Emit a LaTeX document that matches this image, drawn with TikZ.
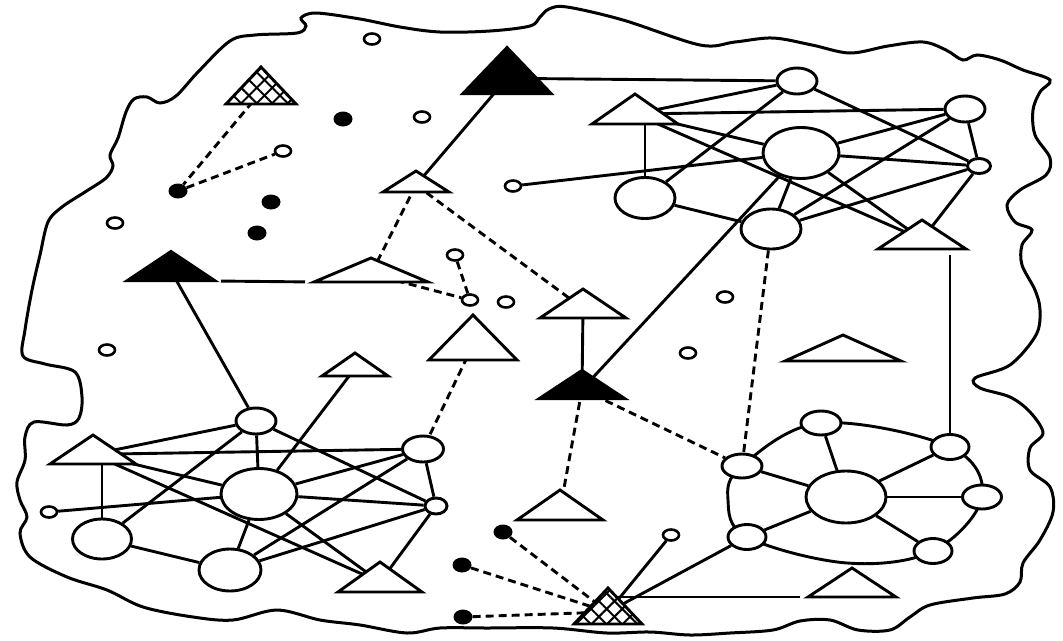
\documentclass[tikz,border=0pt]{standalone}
\usetikzlibrary{shapes.geometric,backgrounds,patterns.meta}
\pgfdeclarelayer{edges}
\pgfsetlayers{background,edges,main}
\tikzset{
  circ/.style={ellipse, draw, fill=white, line width=2.9pt, inner sep=0pt},
  sm/.style={ellipse, draw, fill=white, line width=2.6pt, inner sep=0pt, minimum width=16pt, minimum height=11pt},
  dot/.style={ellipse, fill=black, inner sep=0pt, minimum width=19pt, minimum height=15pt},
  opentri/.style={draw, fill=white, line width=2.9pt, line join=miter},
  blacktri/.style={draw, fill=black, line width=2.2pt, line join=miter},
  link/.style={line width=2.9pt},
  dlink/.style={line width=2.9pt, dash pattern=on 8pt off 5pt},
  border/.style={line width=3pt}
}
\newcommand\mytri[6][opentri]{%
  \coordinate (#2) at (#3,{#4+2*#6/3});
  \coordinate (#2a) at (#3,#4);
  \coordinate (#2l) at ({#3-#5},{#4+#6});
  \coordinate (#2r) at ({#3+#5},{#4+#6});
  \path[#1] (#2a) -- (#2l) -- (#2r) -- cycle;
}
\newcommand\myhatri[5]{%
  \mytri[fill=white]{#1}{#2}{#3}{#4}{#5}
  \path[pattern={Lines[angle=45,distance=11pt,line width=2pt]}] (#1a) -- (#1l) -- (#1r) -- cycle;
  \path[pattern={Lines[angle=-45,distance=11pt,line width=2pt]}] (#1a) -- (#1l) -- (#1r) -- cycle;
  \draw[line width=2.9pt, line join=miter] (#1a) -- (#1l) -- (#1r) -- cycle;
}
\begin{document}
\begin{tikzpicture}[x=1pt,y=-1pt]
\useasboundingbox (0,0) rectangle (1063,640);
\begin{pgfonlayer}{background}
\fill[white] (0,0) rectangle (1063,640);
\end{pgfonlayer}

% ---- top-right cluster circles
\node[circ, minimum width=40pt, minimum height=26pt] (C1) at (797,81) {};
\node[circ, minimum width=40pt, minimum height=26pt] (C2) at (965,109) {};
\node[circ, minimum width=76pt, minimum height=51pt] (C3) at (801,153) {};
\node[circ, minimum width=23pt, minimum height=15pt] (C4) at (979,166) {};
\node[circ, minimum width=60pt, minimum height=41pt] (C5) at (645,198) {};
\node[circ, minimum width=60pt, minimum height=40pt] (C6) at (771,229) {};
% ---- bottom-left cluster circles
\node[circ, minimum width=40pt, minimum height=26pt] (L1) at (256,421) {};
\node[circ, minimum width=76pt, minimum height=51pt] (L2) at (259,494) {};
\node[circ, minimum width=59pt, minimum height=40pt] (L3) at (102,539) {};
\node[circ, minimum width=62pt, minimum height=42pt] (L4) at (230,570) {};
\node[circ, minimum width=41pt, minimum height=26pt] (L5) at (423,449) {};
\node[circ, minimum width=22pt, minimum height=16pt] (L6) at (436,506) {};
% ---- ring cluster circles
\node[circ, minimum width=80pt, minimum height=52pt] (R0) at (846,497) {};
\node[circ, minimum width=40pt, minimum height=24pt] (Rt) at (821,423) {};
\node[circ, minimum width=38pt, minimum height=25pt] (Rtr) at (950,447) {};
\node[circ, minimum width=39pt, minimum height=24pt] (Rr) at (982,497) {};
\node[circ, minimum width=38pt, minimum height=25pt] (Rbr) at (933,551) {};
\node[circ, minimum width=38pt, minimum height=25pt] (Rbl) at (747,537) {};
\node[circ, minimum width=40pt, minimum height=24pt] (Rl) at (742,466) {};
% ---- small open circles
\node[sm] (o1) at (372,39) {};
\node[sm] (o2) at (422,117) {};
\node[sm] (o3) at (513,186) {};
\node[sm] (o4) at (283,151) {};
\node[sm] (o5) at (115,223) {};
\node[sm] (o6) at (107,350) {};
\node[sm] (o7) at (455,255) {};
\node[sm] (o8) at (470,300) {};
\node[sm] (o9) at (506,302) {};
\node[sm] (o10) at (725,297) {};
\node[sm] (o11) at (688,353) {};
\node[sm] (o12) at (671,535) {};
\node[sm] (o13) at (49,512) {};
% ---- black dots
\node[dot] (d1) at (343,119) {};
\node[dot] (d2) at (178,191) {};
\node[dot] (d3) at (271,202) {};
\node[dot] (d4) at (257,233) {};
\node[dot] (d5) at (503,532) {};
\node[dot] (d6) at (462,565) {};
\node[dot] (d7) at (463,617) {};
% ---- triangles: name, apex x, apex y, half width, height
\myhatri{Ht}{261}{67}{35}{37}
\mytri[blacktri]{Bt}{507}{47}{45}{47}
\mytri{T0}{416}{171}{33}{21}
\mytri[blacktri]{Bl}{171}{251}{45}{30}
\mytri{Tm}{371}{258}{57}{24}
\mytri{Tc}{583}{289}{43}{29}
\mytri{Tmid}{473}{315}{44}{45}
\mytri{LT3}{355}{353}{33}{23}
\mytri[blacktri]{Bm}{582}{370}{44}{29}
\mytri{Tr}{843}{335}{58}{26}
\mytri{T1}{635}{94}{43}{30}
\mytri{T2}{922}{220}{44}{29}
\mytri{LT1}{93}{435}{43}{29}
\mytri{LT2}{380}{562}{42}{30}
\mytri{Tb}{560}{490}{43}{30}
\myhatri{Hb}{608}{588}{34}{36}
\mytri{Tb2}{852}{568}{44}{29}

\begin{pgfonlayer}{edges}
% boundary
\draw[border] plot[smooth cycle, tension=0.55] coordinates {
 (48,222) (62,207) (85,192) (106,178) (113,166) (110,155) (118,138) (126,112)
 (134,99) (147,97) (160,103) (176,96) (198,72) (230,41) (255,35) (297,33)
 (306,26) (301,18) (316,13) (360,19) (400,27) (440,32) (490,31) (530,26)
 (540,17) (549,9) (567,7) (623,20) (700,45) (735,42) (773,38) (812,45)
 (850,53) (888,46) (923,42) (946,50) (963,60) (977,55) (1000,60) (1023,70)
 (1050,80) (1040,92) (1033,110) (1035,135) (1050,158) (1046,175) (1020,190)
 (1007,205) (1015,222) (1032,230) (1022,245) (1022,265) (1035,290) (1040,310)
 (1036,335) (1010,365) (975,378) (980,388) (1010,397) (1030,412) (1043,433)
 (1030,448) (1030,470) (1050,487) (1053,512) (1040,540) (1023,563) (1020,582)
 (1005,594) (973,598) (930,605) (910,617) (890,630) (858,630) (830,620)
 (800,621) (773,630) (730,633) (690,635) (650,632) (607,633) (553,628)
 (487,628) (440,628) (407,633) (360,625) (320,620) (277,610) (233,620)
 (193,617) (143,607) (107,590) (67,577) (30,557) (20,533) (27,517) (20,500)
 (17,482) (25,460) (25,437) (34,422) (67,425) (79,418) (82,397) (75,372)
 (45,364) (23,356) (25,330) (32,290) (40,255)};
% ring
\draw[link] plot[smooth cycle, tension=0.6] coordinates {
 (Rl) (Rt) (Rtr) (Rr) (Rbr) (847,563) (Rbl) (728,500)};
% dashed connectors
\draw[dlink] (Ht) -- (d2);
\draw[dlink] (d2) -- (o4);
\draw[dlink] (T0) -- (Tm);
\draw[dlink] (T0) -- (Tc);
\draw[dlink] (Tm) -- (o8);
\draw[dlink] (o7) -- (o8);
\draw[dlink] (Tmid) -- (L5);
\draw[dlink] (Bm) -- (Tb);
\draw[dlink] (Bm) -- (Rl);
\draw[dlink] (C6) -- (Rl);
\draw[dlink] (d5) -- (Hb);
\draw[dlink] (d6) -- (Hb);
\draw[dlink] (d7) -- (Hb);
% solid connectors
\draw[link] (Bt) -- (C1);
\draw[link] (Bt) -- (T0);
\draw[link] (o3) -- (C3);
\draw[link, shorten <=5pt, shorten >=9pt] (Blr) -- (Tml);
\draw[link] (Bl) -- (L1);
\draw[link] (LT3) -- (L2);
\draw[link] (Tc) -- (Bm);
\draw[link] (Bm) -- (C3);
\draw[link] (Hb) -- (o12);
\draw[link] (Hb) -- (Rbl);
\draw[link, shorten >=8pt] (Hba |- Tb2l) -- (Tb2l);
\draw[link, shorten <=16pt] (T2 -| Rtr) -- (Rtr);
% top-right cluster
\draw[link] (T1) -- (C1);
\draw[link] (T1) -- (C2);
\draw[link] (T1) -- (C3);
\draw[link] (T1) -- (T2);
\draw[link] (T1 -| C5) -- (C5);
\draw[link] (C1) -- (C4);
\draw[link] (C1) -- (C5);
\draw[link] (C2) -- (C3);
\draw[link] (C2) -- (C6);
\draw[link] (C2) -- (C4);
\draw[link] (C3) -- (C4);
\draw[link] (C3) -- (T2);
\draw[link] (C3) -- (C6);
\draw[link] (C5) -- (C6);
\draw[link] (C6) -- (C4);
\draw[link] (C4) -- (T2);
% bottom-left cluster
\draw[link] (LT1) -- (L1);
\draw[link] (LT1) -- (L5);
\draw[link] (LT1) -- (L2);
\draw[link] (LT1) -- (LT2);
\draw[link] (LT1 -| L3) -- (L3);
\draw[link] (o13) -- (L2);
\draw[link] (L3) -- (L1);
\draw[link] (L3) -- (L4);
\draw[link] (L1) -- (L2);
\draw[link] (L1) -- (L6);
\draw[link] (L2) -- (L4);
\draw[link] (L2) -- (L5);
\draw[link] (L2) -- (L6);
\draw[link] (L2) -- (LT2);
\draw[link] (L4) -- (L5);
\draw[link] (L4) -- (L6);
\draw[link] (L6) -- (LT2);
\draw[link] (L5) -- (L6);
% ring spokes
\draw[link] (R0) -- (Rt);
\draw[link] (R0) -- (Rtr);
\draw[link] (R0) -- (Rr);
\draw[link] (R0) -- (Rbr);
\draw[link] (R0) -- (Rbl);
\draw[link] (R0) -- (Rl);
\end{pgfonlayer}
\end{tikzpicture}
\end{document}
